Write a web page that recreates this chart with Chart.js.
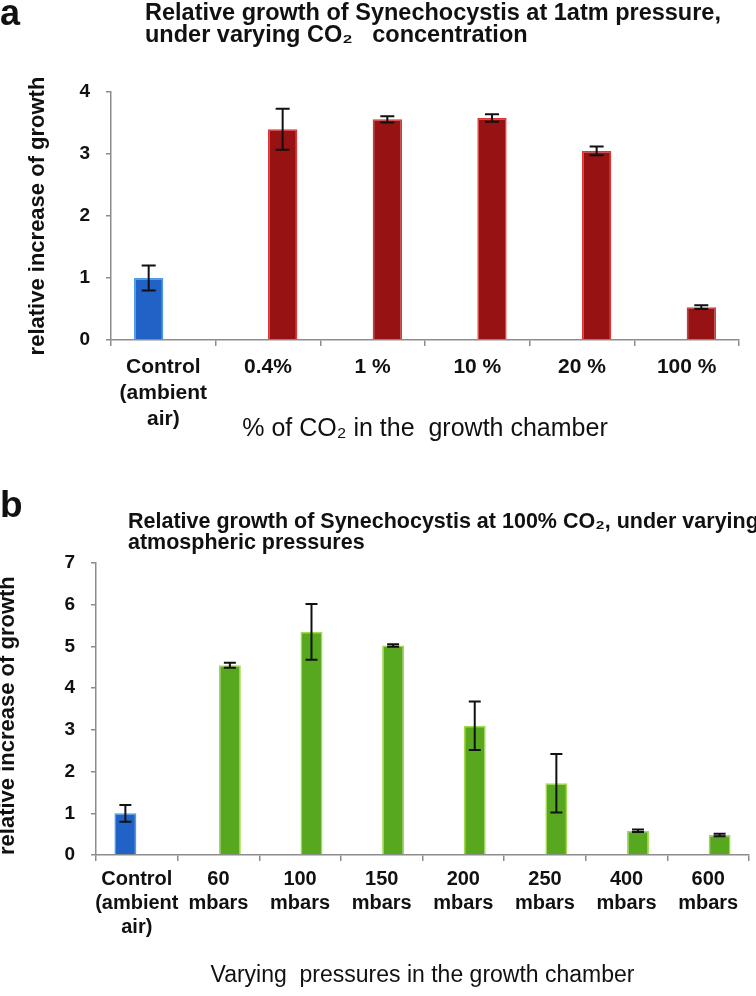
<!DOCTYPE html>
<html>
<head>
<meta charset="utf-8">
<script src="https://cdn.jsdelivr.net/npm/chart.js@4.4.1/dist/chart.umd.min.js"></script>
<style>
    body { margin: 0; background: #fff; }
    #wrap { position: relative; width: 756px; height: 996px; }
    #panelA { position: absolute; left: 0; top: 0; }
    #panelB { position: absolute; left: 0; top: 455px; }
</style>
</head>
<body>
<div id="wrap">
    <canvas id="panelA" width="756" height="455"></canvas>
    <canvas id="panelB" width="756" height="541"></canvas>
</div>
<script>
// panel a - CO2 concentration at 1 atm
const co2Labels = [['Control', '(ambient', 'air)'], '0.4%', '1 %', '10 %', '20 %', '100 %'];
const co2Control = [1.0, null, null, null, null, null];
const co2ControlErr = [0.2, null, null, null, null, null];
const co2Growth = [null, 3.4, 3.56, 3.58, 3.05, 0.53];
const co2GrowthErr = [null, 0.33, 0.05, 0.06, 0.07, 0.03];
const co2Ticks = [0, 1, 2, 3, 4];

// panel b - pressure at 100% CO2
const pressureLabels = [['Control', '(ambient', 'air)'], ['60', 'mbars'], ['100', 'mbars'], ['150', 'mbars'],
    ['200', 'mbars'], ['250', 'mbars'], ['400', 'mbars'], ['600', 'mbars']];
const pressureControl = [1.0, null, null, null, null, null, null, null];
const pressureControlErr = [0.2, null, null, null, null, null, null, null];
const pressureGrowth = [null, 4.55, 5.35, 5.02, 3.1, 1.72, 0.58, 0.48];
const pressureGrowthErr = [null, 0.06, 0.67, 0.03, 0.58, 0.7, 0.03, 0.03];
const pressureTicks = [0, 1, 2, 3, 4, 5, 6, 7];

const family = "'Liberation Sans', Arial, sans-serif";
const axisGray = '#8c8c8c';
const ink = '#111';

// draws the black error bars on top of each bar
const errorBars = {
    id: 'errorBars',
    afterDatasetsDraw(chart, args, opts) {
        const ctx = chart.ctx;
        const y = chart.scales.y;
        const half = opts.cap / 2;
        ctx.save();
        ctx.strokeStyle = ink;
        ctx.lineWidth = 2;
        chart.data.datasets.forEach((ds, i) => {
            chart.getDatasetMeta(i).data.forEach((bar, j) => {
                const v = ds.data[j], e = ds.errors[j];
                if (v == null || e == null) return;
                const top = y.getPixelForValue(v + e);
                const bot = y.getPixelForValue(v - e);
                ctx.beginPath();
                ctx.moveTo(bar.x, top); ctx.lineTo(bar.x, bot);
                ctx.moveTo(bar.x - half, top); ctx.lineTo(bar.x + half, top);
                ctx.moveTo(bar.x - half, bot); ctx.lineTo(bar.x + half, bot);
                ctx.stroke();
            });
        });
        ctx.restore();
    }
};

// panel letter and the two-line heading
const panelTitle = {
    id: 'panelTitle',
    afterDraw(chart, args, opts) {
        const ctx = chart.ctx;
        ctx.save();
        ctx.fillStyle = ink;
        ctx.textBaseline = 'alphabetic';
        ctx.font = opts.letterFont;
        ctx.fillText(opts.letter, 0, opts.letterY);
        ctx.font = opts.font;
        ctx.fillText(opts.line1, opts.x, opts.y1);
        ctx.fillText(opts.line2, opts.x, opts.y2);
        ctx.restore();
    }
};

function makeChart(id, cfg) {
    return new Chart(document.getElementById(id), {
        type: 'bar',
        data: {
            labels: cfg.labels,
            datasets: [{
                data: cfg.control,
                errors: cfg.controlErr,
                backgroundColor: '#2162c6',
                borderColor: '#4b9be6',
                borderWidth: 1.5
            }, {
                data: cfg.values,
                errors: cfg.valuesErr,
                backgroundColor: cfg.fill,
                borderColor: cfg.edge,
                borderWidth: 1.5
            }]
        },
        options: {
            responsive: false,
            animation: false,
            layout: { padding: cfg.padding },
            datasets: { bar: { categoryPercentage: 0.56, barPercentage: cfg.barPct } },
            plugins: {
                legend: { display: false },
                tooltip: { enabled: false },
                errorBars: { cap: cfg.cap },
                panelTitle: cfg.title
            },
            scales: {
                x: {
                    grid: { drawOnChartArea: false, tickLength: 6, color: axisGray, lineWidth: 1.5 },
                    border: { color: axisGray, width: 1.5 },
                    ticks: {
                        color: ink, autoSkip: false, maxRotation: 0, padding: cfg.xPad,
                        font: { family: family, size: cfg.xSize, weight: 'bold', lineHeight: cfg.xLine }
                    },
                    title: {
                        display: true, text: cfg.xTitle, color: ink,
                        font: { family: family, size: cfg.xTitleSize, lineHeight: 1.2 },
                        padding: { top: 0, bottom: cfg.xTitlePad }
                    },
                    afterFit: s => { s.height = cfg.xHeight; }
                },
                y: {
                    min: 0,
                    max: cfg.ticks[cfg.ticks.length - 1],
                    afterBuildTicks: s => { s.ticks = cfg.ticks.map(v => ({ value: v })); },
                    grid: { drawOnChartArea: false, tickLength: 5, color: axisGray, lineWidth: 1.5 },
                    border: { color: axisGray, width: 1.5 },
                    ticks: { color: ink, padding: 16, font: { family: family, size: 19, weight: 'bold' } },
                    title: {
                        display: true, text: 'relative increase of growth', color: ink, align: cfg.yAlign,
                        font: { family: family, size: 22, weight: 'bold', lineHeight: cfg.yLine },
                        padding: { top: cfg.yTitlePad, bottom: 0 }
                    },
                    afterFit: s => { s.width = cfg.yWidth; }
                }
            }
        },
        plugins: [errorBars, panelTitle]
    });
}

makeChart('panelA', {
    labels: co2Labels,
    control: co2Control, controlErr: co2ControlErr,
    values: co2Growth, valuesErr: co2GrowthErr,
    ticks: co2Ticks,
    fill: '#971212', edge: '#de3434',
    barPct: 1.0, cap: 14,
    padding: { top: 92, right: 17, left: 0, bottom: 0 },
    xSize: 21, xLine: 1.24, xPad: 8.5, xHeight: 115, xTitlePad: 11, xTitleSize: 25,
    xTitle: '% of CO\u2082 in the  growth chamber',
    yWidth: 111, yLine: 1, yTitlePad: 27, yAlign: 'center',
    title: {
        letter: 'a', letterFont: "bold 36px " + family, letterY: 25,
        font: "bold 23.5px " + family, x: 145, y1: 20, y2: 42,
        line1: 'Relative growth of Synechocystis at 1atm pressure,',
        line2: 'under varying CO\u2082   concentration'
    }
});

makeChart('panelB', {
    labels: pressureLabels,
    control: pressureControl, controlErr: pressureControlErr,
    values: pressureGrowth, valuesErr: pressureGrowthErr,
    ticks: pressureTicks,
    fill: '#58a81f', edge: '#a2d94c',
    barPct: 0.96, cap: 12,
    padding: { top: 108, right: 7, left: 0, bottom: 0 },
    xSize: 20, xLine: 1.2, xPad: 6.5, xHeight: 141, xTitlePad: 7, xTitleSize: 23,
    xTitle: 'Varying  pressures in the growth chamber',
    yWidth: 96, yLine: 0.7, yTitlePad: 0, yAlign: 'start',
    title: {
        letter: 'b', letterFont: "bold 37px " + family, letterY: 62,
        font: "bold 21.5px " + family, x: 128, y1: 73, y2: 94,
        line1: 'Relative growth of Synechocystis at 100% CO\u2082, under varying',
        line2: 'atmospheric pressures'
    }
});
</script>
</body>
</html>
